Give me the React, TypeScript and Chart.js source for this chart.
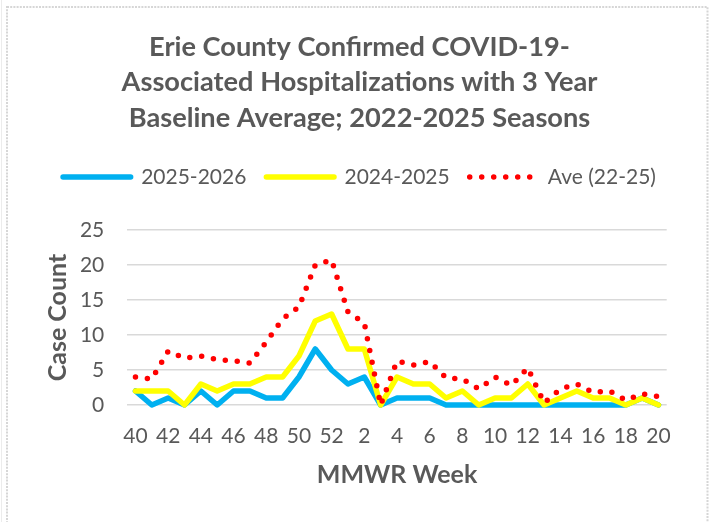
import React, { useEffect, useRef } from 'react';
import { Chart, registerables } from 'chart.js';

Chart.register(...registerables);

// ---- data ----
const weeks = ['40', '41', '42', '43', '44', '45', '46', '47', '48', '49', '50', '51', '52',
  '1', '2', '3', '4', '5', '6', '7', '8', '9', '10', '11', '12', '13', '14', '15', '16', '17', '18', '19', '20'];

const season2526 = [2, 0, 1, 0, 2, 0, 2, 2, 1, 1, 4, 8, 5,
  3, 4, 0, 1, 1, 1, 0, 0, 0, 0, 0, 0, 0, 0, 0, 0, 0, 0, 1, 0];

const season2425 = [2, 2, 2, 0, 3, 2, 3, 3, 4, 4, 7, 12, 13,
  8, 8, 0, 4, 3, 3, 1, 2, 0, 1, 1, 3, 0, 1, 2, 1, 1, 0, 1, 0];

const ave2225 = [4.0, 3.7, 7.7, 6.7, 7.0, 6.5, 6.3, 6.0, 9.0, 12.3, 14.0, 20.0, 20.7,
  13.3, 11.7, 0, 6.3, 5.7, 6.2, 3.9, 3.7, 2.3, 4.0, 2.8, 5.3, 0.3, 2.3, 3.0, 1.8, 2.0, 0.7, 1.6, 1.2];

const seriesLabels = ['2025-2026', '2024-2025', 'Ave (22-25)'];
const titleLines = ['Erie County Confirmed COVID-19-', 'Associated Hospitalizations with 3 Year', 'Baseline Average; 2022-2025 Seasons'];
const xTitle = 'MMWR Week';
const yTitle = 'Case Count';
const yMin = 0;
const yMax = 25;
const yStep = 5;

// ---- styles ----
const TEXT = '#595959';
const FAMILY = 'Lato, "Open Sans", "DejaVu Sans", sans-serif';
const GRID = '#d9d9d9';

const framePlugin = {
  id: 'frame',
  beforeDraw(chart: any) {
    const ctx = chart.ctx;
    ctx.save();
    ctx.fillStyle = '#ffffff';
    ctx.fillRect(0, 0, chart.width, chart.height);
    ctx.strokeStyle = '#ececec';
    ctx.lineWidth = 1;
    ctx.beginPath();
    ctx.moveTo(1.5, 0);
    ctx.lineTo(1.5, chart.height);
    ctx.stroke();
    ctx.strokeStyle = '#d6d6d6';
    ctx.lineWidth = 2;
    ctx.setLineDash([2, 1.2]);
    ctx.strokeRect(7, 7, 700.5, 540);
    ctx.restore();
  },
};

export default function App() {
  const ref = useRef<HTMLCanvasElement>(null);

  useEffect(() => {
    if (!ref.current) return;
    const common = { pointRadius: 0, borderWidth: 5.5, borderCapStyle: 'round', borderJoinStyle: 'round', tension: 0, clip: 8 };
    const chart = new Chart(ref.current, {
      type: 'line',
      data: {
        labels: weeks,
        datasets: [
          { ...common, label: seriesLabels[0], data: season2526, borderColor: '#00B0F0', backgroundColor: '#00B0F0', order: 3 },
          { ...common, label: seriesLabels[1], data: season2425, borderColor: '#FFFF00', backgroundColor: '#FFFF00', order: 2 },
          { ...common, label: seriesLabels[2], data: ave2225, borderColor: '#FF0000', backgroundColor: '#FF0000', borderDash: [0, 12], order: 1 },
        ] as any,
      },
      options: {
        responsive: false,
        animation: false,
        events: [],
        layout: { padding: { left: 0, right: 0, top: 0, bottom: 0 } },
        plugins: {
          title: {
            display: true,
            text: titleLines,
            color: TEXT,
            font: { family: FAMILY, size: 27.2, weight: 'bold', lineHeight: '35.5px' },
            padding: { top: 29, bottom: 11 },
          },
          legend: {
            display: true,
            position: 'top',
            labels: {
              usePointStyle: true,
              pointStyle: 'line',
              pointStyleWidth: 67.6,
              padding: 20,
              color: TEXT,
              font: { family: FAMILY, size: 21 },
              generateLabels: (c: any) => c.data.datasets.map((ds: any, i: number) => ({
                text: ds.label,
                fillStyle: ds.borderColor,
                strokeStyle: ds.borderColor,
                lineWidth: ds.borderWidth,
                lineDash: ds.borderDash || [],
                lineCap: 'round',
                pointStyle: 'line',
                hidden: false,
                datasetIndex: i,
                fontColor: TEXT,
              })),
            },
          },
          subtitle: {
            display: true,
            text: '',
            weight: 500,
            font: { size: 10, lineHeight: '32.5px' },
            padding: 0,
          } as any,
          tooltip: { enabled: false },
        },
        scales: {
          x: {
            offset: true,
            grid: { display: false },
            border: { display: false },
            ticks: {
              autoSkip: false,
              maxRotation: 0,
              padding: 10.5,
              color: TEXT,
              font: { family: FAMILY, size: 21 },
              callback: (_v: any, i: number) => (i % 2 === 0 ? weeks[i] : ''),
            },
            title: {
              display: true,
              text: xTitle,
              color: TEXT,
              font: { family: FAMILY, size: 25, weight: 'bold' },
              padding: { top: 0, bottom: 31.9 },
            },
            afterFit: (s: any) => { s.height = 117; },
          },
          y: {
            min: yMin,
            max: yMax,
            ticks: { stepSize: yStep, padding: 23, color: TEXT, font: { family: FAMILY, size: 21 } },
            grid: { color: GRID, lineWidth: 1.5, drawTicks: false },
            border: { display: false },
            title: {
              display: true,
              text: yTitle,
              color: TEXT,
              font: { family: FAMILY, size: 25, weight: 'bold' },
              padding: { top: 43, bottom: 0 },
            },
            afterFit: (s: any) => { s.width = 127.3; },
          },
          yRightSpace: {
            position: 'right',
            display: true,
            grid: { display: false, drawOnChartArea: false },
            border: { display: false },
            ticks: { display: false },
            afterFit: (s: any) => { s.width = 52.3; },
          },
        },
      } as any,
      plugins: [framePlugin],
    });
    return () => chart.destroy();
  }, []);

  return (
    <div style={{ position: 'absolute', left: 0, top: 0, width: 719, height: 522, background: '#fff' }}>
      <canvas ref={ref} width={719} height={522} style={{ display: 'block' }} />
    </div>
  );
}
